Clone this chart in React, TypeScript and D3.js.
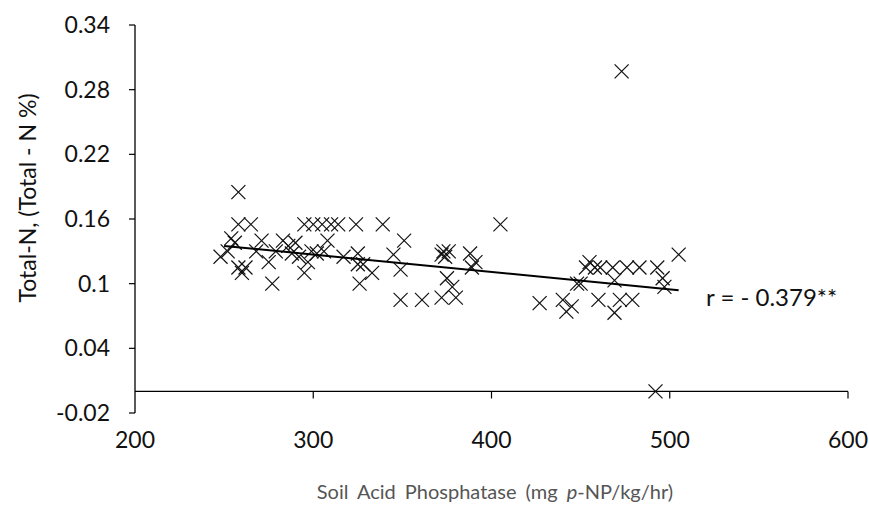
import React from "react";
import * as d3 from "d3";

// Data
const phosphatase: number[] = [
  248, 252, 254, 256, 258, 258, 258, 260, 262, 265, 268, 271, 275, 277, 279, 283, 286, 288, 290, 292,
  295, 295, 297, 299, 300, 302, 305, 306, 308, 310, 314, 317, 324, 325, 325, 326, 328, 333, 339, 345,
  349, 349, 351, 361, 372, 373, 374, 375, 376, 378, 380, 372, 388, 389, 391, 405, 427, 440, 442, 445,
  448, 450, 453, 455, 458, 460, 461, 468, 469, 469, 472, 473, 476, 479, 483, 492, 493, 496, 497, 505,
];
const totalN: number[] = [
  0.125, 0.13, 0.142, 0.138, 0.185, 0.155, 0.115, 0.11, 0.115, 0.155, 0.13, 0.14, 0.12, 0.1, 0.13, 0.14, 0.135, 0.128, 0.138, 0.125,
  0.155, 0.11, 0.12, 0.13, 0.155, 0.128, 0.155, 0.13, 0.14, 0.155, 0.155, 0.125, 0.155, 0.128, 0.118, 0.1, 0.118, 0.11, 0.155, 0.127,
  0.113, 0.085, 0.14, 0.085, 0.127, 0.13, 0.125, 0.105, 0.13, 0.097, 0.087, 0.087, 0.128, 0.115, 0.12, 0.155, 0.082, 0.085, 0.074, 0.079,
  0.1, 0.1, 0.115, 0.12, 0.115, 0.085, 0.115, 0.115, 0.103, 0.073, 0.085, 0.297, 0.115, 0.085, 0.115, 0.0, 0.115, 0.105, 0.097, 0.127,
];
const trendX: number[] = [250, 505];
const trendY: number[] = [0.135, 0.094];
const xTicks: number[] = [200, 300, 400, 500, 600];
const yTicks: number[] = [0.34, 0.28, 0.22, 0.16, 0.1, 0.04, -0.02];
const yTickLabels: string[] = ["0.34", "0.28", "0.22", "0.16", "0.1", "0.04", "-0.02"];
const rLabel = "r = - 0.379**";

export default function App() {
  const W = 869, H = 527;
  const x = d3.scaleLinear().domain([200, 600]).range([135, 848]);
  const y = d3.scaleLinear().domain([-0.02, 0.34]).range([413, 25]);
  const font = "Lato, 'Open Sans', sans-serif";
  const m = 7;
  const line = d3.line<[number, number]>().x((d) => x(d[0])).y((d) => y(d[1]));
  const trend: [number, number][] = trendX.map((v, i) => [v, trendY[i]]);
  const y0 = y(0);

  return (
    <svg width={W} height={H} style={{ position: "absolute", left: 0, top: 0, background: "#fff" }}>
      <rect x={0} y={0} width={W} height={H} fill="#fff" />
      {/* y axis */}
      <line x1={x(200)} x2={x(200)} y1={y(0.34)} y2={y(-0.02)} stroke="#000" strokeWidth={1.3} />
      {yTicks.map((t, i) => (
        <g key={"yt" + i}>
          <line x1={x(200) - 6} x2={x(200)} y1={y(t)} y2={y(t)} stroke="#000" strokeWidth={1.2} />
          <text x={110} y={y(t)} dy="0.35em" textAnchor="end" fontFamily={font} fontSize={23} fill="#111">
            {yTickLabels[i]}
          </text>
        </g>
      ))}
      {/* x axis at y = 0 */}
      <line x1={x(200)} x2={x(600)} y1={y0} y2={y0} stroke="#000" strokeWidth={1.3} />
      {xTicks.map((t, i) => (
        <g key={"xt" + i}>
          {i > 0 && <line x1={x(t)} x2={x(t)} y1={y0} y2={y0 + 7} stroke="#000" strokeWidth={1.2} />}
          <text x={x(t)} y={448} textAnchor="middle" fontFamily={font} fontSize={23} fill="#111">
            {t}
          </text>
        </g>
      ))}
      {/* points */}
      {phosphatase.map((v, i) => {
        const cx = x(v), cy = y(totalN[i]);
        return (
          <g key={"p" + i} stroke="#111" strokeWidth={1.2}>
            <line x1={cx - m} y1={cy - m} x2={cx + m} y2={cy + m} />
            <line x1={cx - m} y1={cy + m} x2={cx + m} y2={cy - m} />
          </g>
        );
      })}
      {/* trend line */}
      <path d={line(trend) || ""} fill="none" stroke="#000" strokeWidth={2} />
      <text x={706} y={306} fontFamily={font} fontSize={24} fill="#111">{rLabel}</text>
      {/* axis titles */}
      <text
        transform={`translate(36,${198}) rotate(-90)`}
        textAnchor="middle"
        fontFamily={font}
        fontSize={23}
        fill="#111"
      >
        Total-N, (Total - N %)
      </text>
      <text x={495} y={499} textAnchor="middle" fontFamily={font} fontSize={20} fill="#555" wordSpacing={4}>
        Soil Acid Phosphatase (mg <tspan fontStyle="italic">p</tspan>-NP/kg/hr)
      </text>
    </svg>
  );
}
